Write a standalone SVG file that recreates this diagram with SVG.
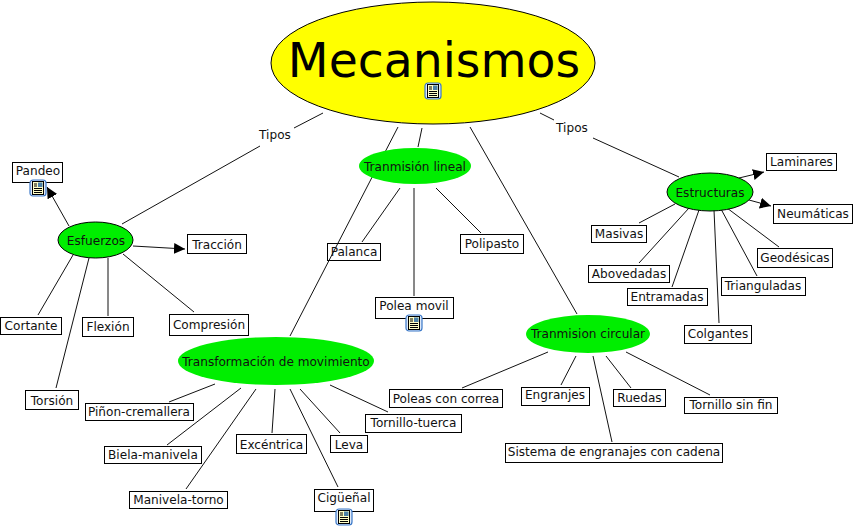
<svg xmlns="http://www.w3.org/2000/svg" xmlns:xlink="http://www.w3.org/1999/xlink" width="854" height="529" viewBox="0 0 854 529">
<style>
text{font-family:Verdana,"DejaVu Sans",sans-serif;font-size:12.100px;fill:#111;text-anchor:middle}
.b{fill:#fff;stroke:#000;stroke-width:1}
.g{fill:#00ee00}
.s{stroke:#000;stroke-width:1}
#connectors line{stroke:#111;stroke-width:1}
.ar{marker-end:url(#a)}
</style>
<defs>
<marker id="a" markerUnits="userSpaceOnUse" markerWidth="12" markerHeight="12" refX="11" refY="6" orient="auto"><path d="M0 0.500L11 6L0 11.500Z" fill="#000"/></marker>
<symbol id="doc" width="18" height="18" viewBox="0 0 18 18" overflow="visible">
<rect x="1" y="1" width="16" height="16" rx="3" fill="#dfe9f8" stroke="#3a78c8" stroke-width="1.2"/>
<rect x="3.500" y="2.500" width="11" height="13" fill="#ffffc8" stroke="#000" stroke-width="1"/>
<rect x="9" y="3.500" width="4.500" height="4.500" fill="#4a80a8"/>
<path d="M5 5h3M5 7h3M5 9.500h8M5 11.500h8M5 13.500h8" stroke="#000" stroke-width="1" fill="none"/>
</symbol>
</defs>
<rect width="854" height="529" fill="#fff"/>
<g id="palanca"><rect class="b" x="327.500" y="243.500" width="53" height="17"/><text x="354" y="256">Palanca</text></g>
<g id="connectors">
<line x1="323" y1="113" x2="294" y2="128"/>
<line x1="260" y1="146" x2="122" y2="224"/>
<line x1="422" y1="128" x2="418" y2="147"/>
<line x1="470" y1="127" x2="577" y2="314"/>
<line x1="540" y1="113" x2="554" y2="120"/>
<line x1="593" y1="138" x2="679" y2="177"/>
<line x1="398" y1="127" x2="290" y2="336"/>
<line class="ar" x1="69" y1="226" x2="47" y2="187"/>
<line class="ar" x1="133" y1="246" x2="185" y2="249"/>
<line x1="73" y1="255" x2="38" y2="315"/>
<line x1="89" y1="258" x2="56" y2="388"/>
<line x1="108" y1="258" x2="108" y2="316"/>
<line x1="123" y1="254" x2="194" y2="312"/>
<line x1="400" y1="188" x2="362" y2="242"/>
<line x1="414" y1="188" x2="414" y2="296"/>
<line x1="436" y1="188" x2="481" y2="233"/>
<line x1="215" y1="384" x2="169" y2="402"/>
<line x1="241" y1="388" x2="167" y2="445"/>
<line x1="256" y1="389" x2="186" y2="489"/>
<line x1="275" y1="389" x2="272" y2="433"/>
<line x1="290" y1="389" x2="338" y2="487"/>
<line x1="300" y1="389" x2="340" y2="433"/>
<line x1="330" y1="385" x2="388" y2="412"/>
<line x1="548" y1="352" x2="462" y2="388"/>
<line x1="576" y1="356" x2="561" y2="385"/>
<line x1="593" y1="356" x2="612" y2="442"/>
<line x1="606" y1="356" x2="631" y2="388"/>
<line x1="626" y1="352" x2="710" y2="395"/>
<line class="ar" x1="739" y1="178" x2="764" y2="172"/>
<line class="ar" x1="749" y1="200" x2="771" y2="206"/>
<line x1="675" y1="204" x2="639" y2="223"/>
<line x1="689" y1="208" x2="639" y2="263"/>
<line x1="699" y1="210" x2="672" y2="287"/>
<line x1="714" y1="210" x2="719" y2="323"/>
<line x1="721" y1="209" x2="757" y2="276"/>
<line x1="727" y1="208" x2="779" y2="247"/>
</g>
<g id="mecanismos"><ellipse cx="433" cy="63" rx="162" ry="61" fill="#ffff00" stroke="#000" stroke-width="1"/><text x="434" y="77" style="font-size:47.300px;fill:#000">Mecanismos</text><use href="#doc" xlink:href="#doc" x="424" y="82"/></g>
<g id="tipos1"><text x="275" y="139">Tipos</text></g>
<g id="tipos2"><text x="572" y="132">Tipos</text></g>
<g id="lineal"><ellipse class="g" cx="415" cy="166" rx="56" ry="18"/><text x="415" y="171">Tranmisión lineal</text></g>
<g id="esfuerzos"><ellipse class="g s" cx="95.500" cy="240" rx="37.500" ry="18"/><text x="96" y="245">Esfuerzos</text></g>
<g id="estructuras"><ellipse class="g s" cx="710" cy="192" rx="43" ry="19"/><text x="710" y="197">Estructuras</text></g>
<g id="transformacion"><ellipse class="g" cx="276" cy="361" rx="98" ry="24"/><text x="276" y="366">Transformación de movimiento</text></g>
<g id="circular"><ellipse class="g" cx="588" cy="334" rx="62" ry="19"/><text x="588" y="338">Tranmision circular</text></g>
<g id="pandeo"><rect class="b" x="12.500" y="162.500" width="50" height="20"/><text x="38" y="175">Pandeo</text><use href="#doc" xlink:href="#doc" x="29" y="179"/></g>
<g id="traccion"><rect class="b" x="187.500" y="234.500" width="59" height="19"/><text x="217" y="249">Tracción</text></g>
<g id="cortante"><rect class="b" x="0.500" y="317.500" width="61" height="17"/><text x="31" y="330">Cortante</text></g>
<g id="flexion"><rect class="b" x="82.500" y="317.500" width="51" height="19"/><text x="108" y="331">Flexión</text></g>
<g id="compresion"><rect class="b" x="169.500" y="314.500" width="79" height="21"/><text x="209" y="329">Compresión</text></g>
<g id="torsion"><rect class="b" x="25.500" y="390.500" width="53" height="19"/><text x="52" y="405">Torsión</text></g>
<g id="polipasto"><rect class="b" x="460.500" y="234.500" width="63" height="19"/><text x="492" y="248">Polipasto</text></g>
<g id="polea"><rect class="b" x="375.500" y="297.500" width="78" height="21"/><text x="414" y="310">Polea movil</text><use href="#doc" xlink:href="#doc" x="405" y="314"/></g>
<g id="pinon"><rect class="b" x="85.500" y="403.500" width="108" height="17"/><text x="139" y="416">Piñon-cremallera</text></g>
<g id="biela"><rect class="b" x="104.500" y="446.500" width="97" height="17"/><text x="153" y="459">Biela-manivela</text></g>
<g id="manivela"><rect class="b" x="129.500" y="491.500" width="98" height="17"/><text x="178.500" y="504">Manivela-torno</text></g>
<g id="excentrica"><rect class="b" x="236.500" y="434.500" width="70" height="19"/><text x="271.500" y="449">Excéntrica</text></g>
<g id="leva"><rect class="b" x="330.500" y="435.500" width="37" height="17"/><text x="349" y="449">Leva</text></g>
<g id="tuerca"><rect class="b" x="365.500" y="414.500" width="96" height="18"/><text x="413.500" y="427">Tornillo-tuerca</text></g>
<g id="ciguenal"><rect class="b" x="314.500" y="489.500" width="59" height="22"/><text x="344" y="502">Cigüeñal</text><use href="#doc" xlink:href="#doc" x="335" y="508"/></g>
<g id="poleas"><rect class="b" x="389.500" y="389.500" width="113" height="18"/><text x="446" y="403">Poleas con correa</text></g>
<g id="engranjes"><rect class="b" x="521.500" y="387.500" width="68" height="18"/><text x="555" y="399">Engranjes</text></g>
<g id="ruedas"><rect class="b" x="613.500" y="389.500" width="52" height="17"/><text x="639.500" y="402">Ruedas</text></g>
<g id="sinfin"><rect class="b" x="684.500" y="397.500" width="93" height="16"/><text x="731" y="409">Tornillo sin fin</text></g>
<g id="sistema"><rect class="b" x="505.500" y="443.500" width="217" height="19"/><text x="614" y="456">Sistema de engranajes con cadena</text></g>
<g id="laminares"><rect class="b" x="766.500" y="153.500" width="70" height="17"/><text x="801.500" y="166">Laminares</text></g>
<g id="neumaticas"><rect class="b" x="773.500" y="204.500" width="79" height="19"/><text x="813" y="218">Neumáticas</text></g>
<g id="masivas"><rect class="b" x="591.500" y="225.500" width="55" height="17"/><text x="619" y="238">Masivas</text></g>
<g id="geodesicas"><rect class="b" x="757.500" y="248.500" width="75" height="19"/><text x="795" y="262">Geodésicas</text></g>
<g id="abovedadas"><rect class="b" x="588.500" y="265.500" width="81" height="17"/><text x="629" y="278">Abovedadas</text></g>
<g id="trianguladas"><rect class="b" x="721.500" y="277.500" width="84" height="18"/><text x="763" y="290">Trianguladas</text></g>
<g id="entramadas"><rect class="b" x="627.500" y="288.500" width="80" height="17"/><text x="667" y="301">Entramadas</text></g>
<g id="colgantes"><rect class="b" x="684.500" y="325.500" width="67" height="18"/><text x="718" y="338">Colgantes</text></g>
</svg>
